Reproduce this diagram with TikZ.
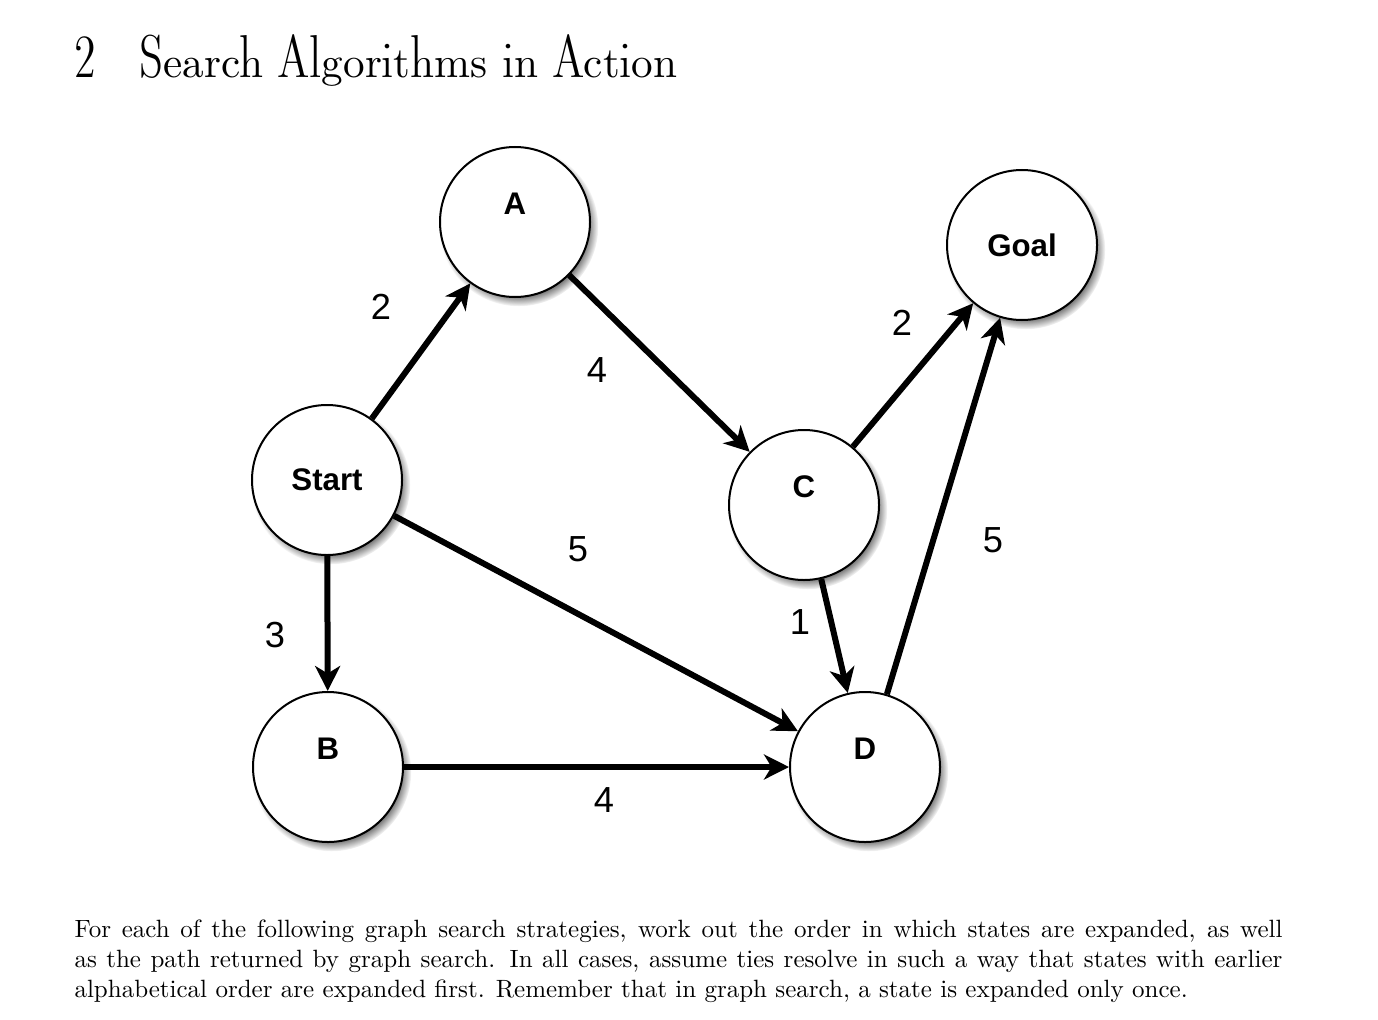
\documentclass[tikz,border=0pt]{standalone}
\usepackage{fontspec}
\newfontfamily\helv{Liberation Sans}
\newfontfamily\dunh{lmromandunh10-regular.otf}
\usetikzlibrary{arrows.meta,shadows}
\tikzset{
  state/.style={circle, draw, line width=0.8pt, fill=white, minimum size=60pt, inner sep=0pt,
    circular drop shadow={shadow scale=1.06, shadow xshift=1.4pt, shadow yshift=-1.8pt, opacity=.8, fill=black!75},
    font=\helv\bfseries\fontsize{12.5}{14}\selectfont},
  up/.style={label={[font=\helv\bfseries\fontsize{12.5}{14}\selectfont, yshift=7.4pt]center:#1}},
  link/.style={line width=2.4pt, -{Stealth[length=10pt, width=10pt, inset=3pt]}},
  cost/.style={font=\helv\fontsize{14.5}{16}\selectfont, inner sep=0pt}
}
\begin{document}
\begin{tikzpicture}[x=0.4pt, y=-0.4pt]
\useasboundingbox (0,0) rectangle (1378,1019);
\node[anchor=base west, inner sep=0pt] (title) at (74,78)
  {\dunh\fontsize{17.28}{22}\selectfont 2\hspace{1em}Search Algorithms in Action};
% the graph
\node [state] (start) at (327,480) {Start};
\node [state, up=A] (a) at (515,222) {};
\node [state] (goal) at (1022,245) {Goal};
\node [state, up=C] (c) at (804,505) {};
\node [state, up=B] (b) at (328,767) {};
\node [state, up=D] (d) at (865,767) {};
\draw [link] (start) -- (a);
\draw [link] (a) -- (c);
\draw [link] (start) -- (d);
\draw [link] (start) -- (b);
\draw [link] (b) -- (d);
\draw [link] (c) -- (d);
\draw [link] (c) -- (goal);
\draw [link] (d) -- (goal);
% costs
\node [cost] (w1) at (381,307) {2};
\node [cost] (w2) at (597,370) {4};
\node [cost] (w3) at (578,549) {5};
\node [cost] (w4) at (275,635) {3};
\node [cost] (w5) at (604,800) {4};
\node [cost] (w6) at (800,622) {1};
\node [cost] (w7) at (902,323) {2};
\node [cost] (w8) at (993,540) {5};
\node[anchor=north west, inner sep=0pt, text width=483.2pt, align=justify] (text) at (74,919.6)
  {For each of the following graph search strategies, work out the order in which states are expanded, as well as the path returned by graph search. In all cases, assume ties resolve in such a way that states with earlier alphabetical order are expanded first. Remember that in graph search, a state is expanded only once.};
\end{tikzpicture}
\end{document}
